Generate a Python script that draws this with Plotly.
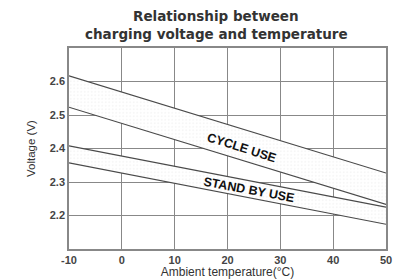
import plotly.graph_objects as go

temps = [-10, 50]
cycle_upper = [2.617, 2.327]
cycle_lower = [2.523, 2.233]
standby_upper = [2.408, 2.225]
standby_lower = [2.357, 2.174]
x_ticks = [-10, 0, 10, 20, 30, 40, 50]
y_ticks = [2.2, 2.3, 2.4, 2.5, 2.6]

line = dict(color="#4a4a4a", width=1.1)
pat = dict(shape=".", fgcolor="#d6d6d6", bgcolor="white", size=3.5, solidity=0.12)

fig = go.Figure()
fig.add_trace(go.Scatter(x=temps, y=cycle_lower, mode="lines", line=line, showlegend=False))
fig.add_trace(go.Scatter(x=temps, y=cycle_upper, mode="lines", line=line, fill="tonexty",
                         fillcolor="white", fillpattern=pat, showlegend=False))
fig.add_trace(go.Scatter(x=temps, y=standby_lower, mode="lines", line=line, showlegend=False))
fig.add_trace(go.Scatter(x=temps, y=standby_upper, mode="lines", line=line, fill="tonexty",
                         fillcolor="white", fillpattern=pat, showlegend=False))

font_lab = dict(family="Liberation Sans, Arial", size=12.5, color="#111111")
fig.add_annotation(x=22.8, y=2.403, text="<b>CYCLE USE</b>", showarrow=False,
                   textangle=17.5, font=font_lab)
fig.add_annotation(x=24.1, y=2.276, text="<b>STAND BY USE</b>", showarrow=False,
                   textangle=10.5, font=font_lab)

title_font = dict(family="DejaVu Sans, Liberation Sans", size=13.5, color="#333333")
fig.add_annotation(xref="paper", yref="paper", x=(216 - 69) / (396 - 79), y=1 + (48 - 16.5) / 201,
                   text="<b>Relationship between</b>", showarrow=False,
                   xanchor="center", yanchor="middle", font=title_font)
fig.add_annotation(xref="paper", yref="paper", x=(216 - 69) / (396 - 79), y=1 + (48 - 33.5) / 201,
                   text="<b>charging voltage and temperature</b>", showarrow=False,
                   xanchor="center", yanchor="middle", font=title_font)

fig.update_layout(
    width=396, height=279,
    margin=dict(l=69, r=10, t=48, b=30, autoexpand=False),
    paper_bgcolor="white", plot_bgcolor="white",
    font=dict(family="Liberation Sans, Arial", size=11, color="#333333"),
)
tick_font = dict(family="Liberation Sans, Arial", size=11, color="#444444", weight="bold")
fig.update_xaxes(range=[-10, 50], tickvals=x_ticks, ticktext=[str(v) for v in x_ticks],
                 tickfont=tick_font,
                 showgrid=True, gridcolor="#888888", gridwidth=1, automargin=False,
                 showline=True, linecolor="#888888", linewidth=1.5, mirror=True,
                 zeroline=False, ticks="", ticklen=0,
                 title=dict(text="Ambient temperature(°C)", standoff=0,
                            font=dict(size=12, color="#333333")))
fig.update_yaxes(range=[2.1, 2.7], tickvals=y_ticks, ticktext=[f"{v:.1f}" for v in y_ticks],
                 tickfont=tick_font,
                 showgrid=True, gridcolor="#888888", gridwidth=1, automargin=False,
                 showline=True, linecolor="#888888", linewidth=1.5, mirror=True,
                 zeroline=False, ticks="", ticklen=0,
                 title=dict(text="Voltage (V)", standoff=12,
                            font=dict(size=11.5, color="#333333")))

fig.write_html("out.html", config={"displayModeBar": False},
               post_script="document.body.style.margin='0';document.body.style.overflow='hidden';")
